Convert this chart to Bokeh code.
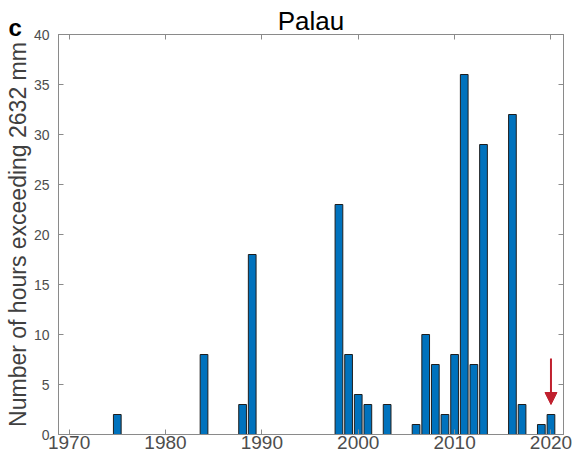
from bokeh.plotting import figure
from bokeh.models import Range1d, LinearAxis, FixedTicker, Title, Arrow, NormalHead
from bokeh.embed import file_html
from bokeh.resources import INLINE

# ---- data ----
years = [1975, 1984, 1988, 1989, 1998, 1999, 2000, 2001, 2003, 2006, 2007,
         2008, 2009, 2010, 2011, 2012, 2013, 2016, 2017, 2019, 2020]
hours = [2, 8, 3, 18, 23, 8, 4, 3, 3, 1, 10,
         7, 2, 8, 36, 7, 29, 32, 3, 1, 2]
x_ticks = [1970, 1980, 1990, 2000, 2010, 2020]
y_ticks = [0, 5, 10, 15, 20, 25, 30, 35, 40]
arrow_year = 2020
arrow_from, arrow_to = 7.6, 3.0

x_min, x_max = 1968.9, 2021.3
y_min, y_max = 0, 40

FONT = "Liberation Sans"
AX = "#8a8a8a"
TXT = "#4d4d4d"
BAR = "#0072BD"
RED = "#C0202E"

p = figure(width=579, height=458, output_backend="svg", toolbar_location=None,
           x_range=Range1d(x_min, x_max), y_range=Range1d(y_min, y_max),
           min_border_left=58, min_border_right=16, min_border_top=34,
           min_border_bottom=24, x_axis_location=None, y_axis_location=None,
           title=None)
p.grid.visible = False
p.outline_line_color = AX
p.background_fill_color = "white"
p.border_fill_color = "white"

p.vbar(x=years, top=hours, width=0.8, bottom=0, fill_color=BAR,
       line_color="#1e1e1e", line_width=1)

def style(ax, ticks, labels=True):
    ax.ticker = FixedTicker(ticks=ticks)
    ax.minor_tick_line_color = None
    ax.major_tick_in = 5
    ax.major_tick_out = 0
    ax.axis_line_color = AX
    ax.major_tick_line_color = AX
    if not labels:
        ax.major_label_text_font_size = "1px"
        ax.major_label_text_color = None
        ax.major_label_standoff = 0

left = LinearAxis()
style(left, y_ticks)
left.major_label_text_font = FONT
left.major_label_text_font_size = "14px"
left.major_label_text_color = TXT
left.major_label_standoff = 9
left.axis_label = "Number of hours exceeding 2632 mm"
left.axis_label_text_font = FONT
left.axis_label_text_font_size = "23px"
left.axis_label_text_font_style = "normal"
left.axis_label_text_color = "#404040"
left.axis_label_standoff = 0
p.add_layout(left, "left")

right = LinearAxis()
style(right, y_ticks, labels=False)
p.add_layout(right, "right")

bottom = LinearAxis()
style(bottom, x_ticks)
bottom.major_label_text_font = FONT
bottom.major_label_text_font_size = "19px"
bottom.major_label_text_color = TXT
bottom.major_label_standoff = 1
p.add_layout(bottom, "below")

# top ticks (innermost, against the frame)
top_ticks = LinearAxis()
style(top_ticks, x_ticks, labels=False)
p.add_layout(top_ticks, "above")

# panel letter
p.add_layout(Title(text="c", align="left", offset=-50, standoff=-12,
                   text_font=FONT, text_font_size="24px", text_font_style="bold",
                   text_color="black"), "above")

# title text carried by an invisible top axis
top = LinearAxis()
style(top, x_ticks, labels=False)
top.axis_line_color = None
top.major_tick_line_color = None
top.axis_label = "Palau"
top.axis_label_text_font = FONT
top.axis_label_text_font_size = "26px"
top.axis_label_text_font_style = "normal"
top.axis_label_text_color = "black"
top.axis_label_standoff = -18
p.add_layout(top, "above")

# red arrow
p.add_layout(Arrow(end=NormalHead(size=12, fill_color=RED, line_color=RED),
                   x_start=arrow_year, y_start=arrow_from, x_end=arrow_year,
                   y_end=arrow_to, line_color=RED, line_width=2))

open("out.html", "w").write(file_html(p, INLINE))
